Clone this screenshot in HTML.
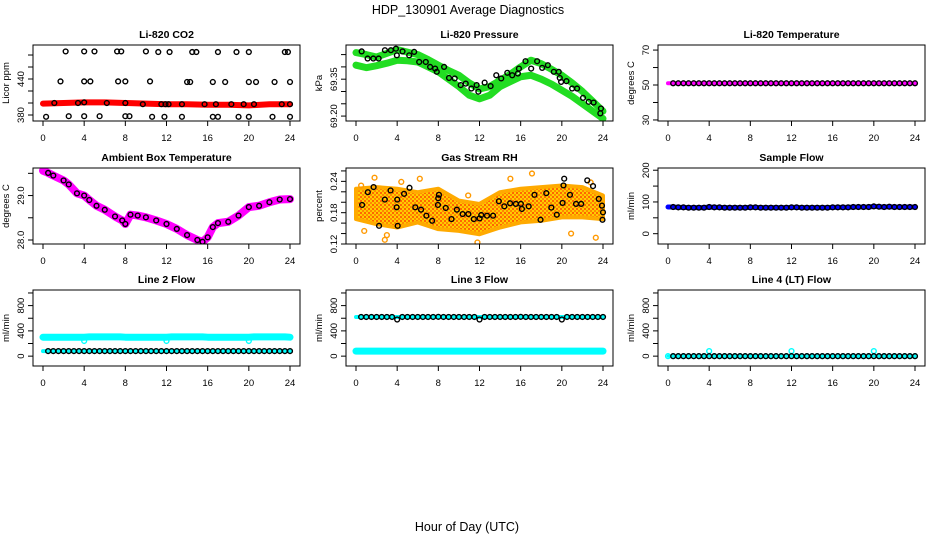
<!DOCTYPE html>
<html><head><meta charset="utf-8">
<style>
html,body{margin:0;padding:0;background:#fff;}
svg{display:block;font-family:"Liberation Sans",Arial,sans-serif;}
</style></head>
<body>
<svg id="chart" width="936" height="540" viewBox="0 0 936 540" xmlns="http://www.w3.org/2000/svg">
<defs>
<pattern id="rhpat" width="4" height="4" patternUnits="userSpaceOnUse">
<rect width="4" height="4" fill="#ffcc00"/>
<rect x="0" y="0" width="2" height="2" fill="#ff6600"/>
<rect x="2" y="2" width="2" height="2" fill="#ff8800"/>
</pattern>
</defs>
<text x="468" y="14" text-anchor="middle" font-size="12.5">HDP_130901  Average Diagnostics</text>
<text x="467" y="531" text-anchor="middle" font-size="12.5">Hour of Day (UTC)</text>
</svg>
<script>
// ---------- data ----------
const hours = [0,0.5,1,1.5,2,2.5,3,3.5,4,4.5,5,5.5,6,6.5,7,7.5,8,8.5,9,9.5,10,10.5,11,11.5,12,12.5,13,13.5,14,14.5,15,15.5,16,16.5,17,17.5,18,18.5,19,19.5,20,20.5,21,21.5,22,22.5,23,23.5,24];
const xTicks = [0,4,8,12,16,20,24];

const co2BandH = [0,2,4,6,8,10,12,14,16,18,20,22,24];
const co2BandV = [399,400,401,401,400,399,398,398,397,397,396,398,398];
const co2CircH = [2.2,4,5,7.2,7.6,10,11.2,12.3,14.5,14.9,17,18.8,20,23.5,23.8, 1.7,4,4.6,7.3,8,10.4,14,14.3,16.5,17.7,20,20.7,22.5,24, 1.1,3.4,4,6.2,8,9.7,11.5,11.9,12.2,13.5,15.7,16.8,18.3,19.5,20.5,23.2,24, 0.3,2.5,4,5.5,8,8.4,10.6,11.8,13.5,16.5,17,19,20,22.3,24];
const co2CircV = [486,486,486,486,486,486,485,485,485,485,485,485,485,485,485, 436,436,436,436,436,436,435,435,435,435,435,435,435,435, 400,400,401,400,400,398,398,398,398,398,398,398,398,398,398,398,398, 377,378,378,378,378,378,377,377,377,377,377,377,377,377,377];

const presAH = [0,1,2,3,4,5,6,7,8,9,10,11,12,13,14,15,16,17,18,19,20,21,22,23,24];
const presAV = [69.458,69.45,69.44,69.455,69.47,69.46,69.45,69.43,69.407,69.385,69.366,69.335,69.31,69.32,69.345,69.37,69.40,69.427,69.413,69.39,69.366,69.335,69.30,69.26,69.22];
const presBH = [0,1,2,3,4,5,6,7,8,9,10,11,12,13,14,15,16,17,18,19,20,21,22,23,24];
const presBV = [69.407,69.397,69.405,69.415,69.427,69.425,69.42,69.40,69.38,69.35,69.32,69.285,69.27,69.285,69.32,69.34,69.36,69.366,69.35,69.33,69.305,69.28,69.25,69.22,69.19];
const presCircH = [0.55,1.13,1.68,2.2,2.81,3.39,3.88,3.97,4.52,5.17,5.65,6.14,6.78,7.2,7.69,7.85,8.56,9.04,9.59,10.17,10.66,11.21,11.72,11.89,12.5,13.08,13.63,14.11,14.7,15.18,15.73,15.83,16.47,17.02,17.6,18.09,18.64,19.22,19.7,19.8,19.93,20.45,21.0,21.48,22.06,22.61,23.09,23.8,23.74];
const presCircV = [69.463,69.434,69.434,69.434,69.468,69.468,69.474,69.447,69.463,69.447,69.461,69.420,69.420,69.400,69.393,69.380,69.400,69.355,69.353,69.326,69.332,69.312,69.326,69.299,69.336,69.322,69.366,69.353,69.376,69.366,69.373,69.393,69.423,69.393,69.423,69.396,69.407,69.380,69.380,69.355,69.339,69.342,69.312,69.312,69.274,69.258,69.255,69.231,69.211];

const tempV = [51,51,51,51,51,51,51,51,51,51,51,51,51,51,51,51,51,51,51,51,51,51,51,51,51,51,51,51,51,51,51,51,51,51,51,51,51,51,51,51,51,51,51,51,51,51,51,51,51];

const ambH = [0,0.5,1,2,2.5,3.3,4,4.5,5.2,6,7,7.7,8,8.5,9.2,10,11,12,13,14,15,15.5,16,16.5,17,18,19,20,21,22,23,24];
const ambV = [29.56,29.51,29.45,29.34,29.25,29.05,29.0,28.9,28.77,28.68,28.53,28.44,28.36,28.57,28.55,28.51,28.44,28.36,28.25,28.11,28.0,27.96,28.06,28.29,28.38,28.41,28.55,28.74,28.77,28.85,28.91,28.92];

const rhBandH = [0,2,4,6,8,10,12,14,16,18,20,22,24];
const rhUpper = [0.2258,0.229,0.2258,0.2193,0.2258,0.2032,0.1968,0.2193,0.2258,0.229,0.2322,0.229,0.2129];
const rhLower = [0.1677,0.158,0.1516,0.1613,0.1484,0.1452,0.1387,0.1516,0.1613,0.1645,0.171,0.171,0.1677];
const rhOutH = [0.5,1.8,2.8,4.4,6.2,10.9,11.8,12.3,15.0,17.1,20.9,22.8,23.3,0.8,3.0];
const rhOutV = [0.232,0.247,0.128,0.239,0.245,0.213,0.123,0.115,0.245,0.255,0.140,0.238,0.132,0.145,0.137];
const rhCircH = [0.59,1.15,1.71,2.24,2.8,3.36,3.95,4.01,4.05,4.67,5.2,5.76,6.32,6.84,7.4,7.96,7.99,8.06,8.72,9.28,9.8,10.36,10.92,11.45,12.01,12.17,12.73,13.32,13.88,14.41,14.97,15.53,16.02,16.12,16.78,17.34,17.93,18.49,18.98,19.51,20.07,20.16,20.23,20.79,21.38,21.88,22.47,23.03,23.59,23.9,24.0,23.95];
const rhCircV = [0.1948,0.2193,0.229,0.1548,0.2051,0.2226,0.1903,0.2051,0.1548,0.2161,0.2277,0.1903,0.1858,0.1742,0.1645,0.1948,0.2077,0.2142,0.189,0.1677,0.1858,0.1774,0.1774,0.1677,0.169,0.1755,0.1742,0.1742,0.2019,0.1922,0.198,0.1968,0.1968,0.1871,0.1922,0.2142,0.1664,0.2174,0.1897,0.1761,0.1987,0.2322,0.2451,0.2142,0.1968,0.1968,0.2419,0.2309,0.2064,0.1935,0.1806,0.1664];

const sampleV = [84,84,83,83,82,82,82,82,84,83,83,82,82,82,82,82,83,83,82,82,82,82,82,82,83,83,82,82,82,82,82,82,83,83,83,83,84,84,84,84,86,85,84,85,84,84,84,84,84];

const line2HiV = [300,300,300,300,300,300,300,300,240,305,305,305,305,305,305,305,300,300,300,300,300,300,300,300,240,305,305,305,305,305,305,305,300,300,300,300,300,300,300,300,240,305,305,305,305,305,305,305,300];
const line2LoV = [80,80,80,80,80,80,80,80,80,80,80,80,80,80,80,80,80,80,80,80,80,80,80,80,80,80,80,80,80,80,80,80,80,80,80,80,80,80,80,80,80,80,80,80,80,80,80,80,80];
const line3HiV = [620,620,620,620,620,620,620,620,580,620,620,620,620,620,620,620,622,620,620,620,620,620,620,620,580,620,620,620,620,620,620,620,622,620,620,620,620,620,620,620,580,620,620,620,620,620,620,620,620];
const line3LoV = [80,80,80,80,80,80,80,80,80,80,80,80,80,80,80,80,80,80,80,80,80,80,80,80,80,80,80,80,80,80,80,80,80,80,80,80,80,80,80,80,80,80,80,80,80,80,80,80,80];
const line4V = [0,0,0,0,0,0,0,0,80,0,0,0,0,0,0,0,0,0,0,0,0,0,0,0,80,0,0,0,0,0,0,0,0,0,0,0,0,0,0,0,80,0,0,0,0,0,0,0,0];

// ---------- drawing ----------
const NS = "http://www.w3.org/2000/svg";
const svg = document.getElementById('chart');
function el(tag, parent){ const e = document.createElementNS(NS, tag); parent.appendChild(e); return e; }

function makePanel(col, row, name, title, ylab, ymin, ymax, yTicks, yLabels){
  const lefts = [33,346,658], tops = [45,168,290];
  const L = lefts[col], T = tops[row], W = 267, Hh = 76;
  const g = el('g', svg);
  
  
  const p = {L, T, W, Hh, g,
    x: h => L + 10 + h * (W - 20) / 24,
    y: v => T + Hh - (v - ymin) / (ymax - ymin) * Hh};
  const t = el('text', g);
  
  
  t.setAttribute('x', L + W / 2); t.setAttribute('y', T - 7);
  t.setAttribute('text-anchor', 'middle'); t.setAttribute('font-size', '10.5'); t.setAttribute('font-weight', 'bold');
  t.textContent = title;
  const yl = el('text', g);
  
  
  const yx = L - 24, yy = T + Hh / 2;
  yl.setAttribute('x', yx); yl.setAttribute('y', yy);
  yl.setAttribute('transform', 'rotate(-90 ' + yx + ' ' + yy + ')');
  yl.setAttribute('text-anchor', 'middle'); yl.setAttribute('font-size', '9.5');
  yl.textContent = ylab;
  xTicks.forEach(h => {
    const tk = el('line', g);
    
    
    tk.setAttribute('x1', p.x(h)); tk.setAttribute('x2', p.x(h));
    tk.setAttribute('y1', T + Hh); tk.setAttribute('y2', T + Hh + 5);
    tk.setAttribute('stroke', '#000');
    const lb = el('text', g);
    
    
    lb.setAttribute('x', p.x(h)); lb.setAttribute('y', T + Hh + 20);
    lb.setAttribute('text-anchor', 'middle'); lb.setAttribute('font-size', '9.5');
    lb.textContent = String(h);
  });
  yTicks.forEach(v => {
    const tk = el('line', g);
    
    
    tk.setAttribute('x1', L); tk.setAttribute('x2', L - 5);
    tk.setAttribute('y1', p.y(v)); tk.setAttribute('y2', p.y(v));
    tk.setAttribute('stroke', '#000');
  });
  yLabels.forEach(s => {
    const v = parseFloat(s);
    const lb = el('text', g);
    
    
    const lx = L - 9, ly = p.y(v);
    lb.setAttribute('x', lx); lb.setAttribute('y', ly);
    lb.setAttribute('transform', 'rotate(-90 ' + lx + ' ' + ly + ')');
    lb.setAttribute('text-anchor', 'middle'); lb.setAttribute('font-size', '9.5');
    lb.textContent = s;
  });
  p.plot = el('g', g);
  
  
  p.finish = function(){
    const b = el('rect', g);
    
    
    b.setAttribute('x', L); b.setAttribute('y', T); b.setAttribute('width', W); b.setAttribute('height', Hh);
    b.setAttribute('fill', 'none'); b.setAttribute('stroke', '#000');
  };
  const cp = el('clipPath', svg); cp.id = 'clip-' + name;
  const cr = el('rect', cp);
  cr.setAttribute('x', L); cr.setAttribute('y', T); cr.setAttribute('width', W); cr.setAttribute('height', Hh);
  p.plot.setAttribute('clip-path', 'url(#clip-' + name + ')');
  return p;
}

function band(p, hs, vs, color, width, nm){
  const pl = el('polyline', p.plot);
  
  
  pl.setAttribute('points', hs.map((h, i) => p.x(h) + ',' + p.y(vs[i])).join(' '));
  pl.setAttribute('fill', 'none'); pl.setAttribute('stroke', color);
  pl.setAttribute('stroke-width', width); pl.setAttribute('stroke-linejoin', 'round'); pl.setAttribute('stroke-linecap', 'round');
}
function circles(p, hs, vs, color, nm, startIdx){
  hs.forEach((h, i) => {
    if (startIdx && i < startIdx) return;
    const c = el('circle', p.plot);
    
    
    c.setAttribute('cx', p.x(h)); c.setAttribute('cy', p.y(vs[i])); c.setAttribute('r', 2.4);
    c.setAttribute('fill', 'none'); c.setAttribute('stroke', color); c.setAttribute('stroke-width', 1.4);
  });
}

// CO2
let p = makePanel(0, 0, 'co2', 'Li-820 CO2', 'Licor ppm', 370, 496.7, [380,400,420,440,460,480], ['380','440']);
band(p, co2BandH, co2BandV, '#ff0000', 6, 'co2-band');
circles(p, co2CircH, co2CircV, '#000', 'co2-point');
p.finish();

// Pressure
p = makePanel(1, 0, 'pressure', 'Li-820 Pressure', 'kPa', 69.18, 69.489, [69.20,69.25,69.30,69.35,69.40,69.45], ['69.20','69.35']);
band(p, presAH, presAV, '#22dd22', 7, 'pressure-band-upper');
band(p, presBH, presBV, '#22dd22', 7, 'pressure-band-lower');
circles(p, presCircH, presCircV, '#000', 'pressure-point');
p.finish();

// Li-820 Temperature
p = makePanel(2, 0, 'li820-temp', 'Li-820 Temperature', 'degrees C', 29.4, 72.9, [30,40,50,60,70], ['30','50','70']);
band(p, hours, tempV, '#ff00ff', 4, 'li820-temp-band');
circles(p, hours, tempV, '#000', 'li820-temp-point', 1);
p.finish();

// Ambient
p = makePanel(0, 1, 'ambient', 'Ambient Box Temperature', 'degrees C', 27.91, 29.62, [28.0,28.5,29.0,29.5], ['28.0','29.0']);
band(p, ambH, ambV, '#ff00ff', 8, 'ambient-band');
circles(p, ambH, ambV, '#000', 'ambient-point', 1);
p.finish();

// RH
p = makePanel(1, 1, 'rh', 'Gas Stream RH', 'percent', 0.12, 0.2656, [0.12,0.14,0.16,0.18,0.20,0.22,0.24,0.26], ['0.12','0.18','0.24']);
{
  const pts = rhBandH.map((h, i) => p.x(h) + ',' + p.y(rhUpper[i]))
    .concat(rhBandH.slice().reverse().map((h, j) => p.x(h) + ',' + p.y(rhLower[rhBandH.length - 1 - j])));
  const pg = el('polygon', p.plot);
  
  
  pg.setAttribute('points', pts.join(' '));
  pg.setAttribute('fill', 'url(#rhpat)'); pg.setAttribute('stroke', '#ffaa00'); pg.setAttribute('stroke-width', 4); pg.setAttribute('stroke-linejoin', 'round');
  circles(p, rhOutH, rhOutV, '#ff9900', 'rh-outlier');
}
circles(p, rhCircH, rhCircV, '#000', 'rh-point');
p.finish();

// Sample flow
p = makePanel(2, 1, 'sample-flow', 'Sample Flow', 'ml/min', -32.5, 207, [0,50,100,150,200], ['0','100','200']);
band(p, hours, sampleV, '#0000ff', 5, 'sample-flow-band');
circles(p, hours, sampleV, '#000', 'sample-flow-point', 1);
p.finish();

// Line 2
const flowTicks = [0,200,400,600,800,1000];
p = makePanel(0, 2, 'line2', 'Line 2 Flow', 'ml/min', -156, 1047, flowTicks, ['0','400','800']);
band(p, hours, line2HiV.map(v => Math.max(v, 300)), '#00ffff', 7, 'line2-high-band');
circles(p, hours, line2HiV, '#00ffff', 'line2-high-point');
band(p, hours, line2LoV, '#00ffff', 4, 'line2-low-band');
circles(p, hours, line2LoV, '#000', 'line2-low-point', 1);
p.finish();

// Line 3
p = makePanel(1, 2, 'line3', 'Line 3 Flow', 'ml/min', -156, 1047, flowTicks, ['0','400','800']);
band(p, hours, line3HiV.map(v => Math.max(v, 620)), '#00ffff', 4, 'line3-high-band');
circles(p, hours, line3HiV, '#000', 'line3-high-point', 1);
band(p, hours, line3LoV, '#00ffff', 7, 'line3-low-band');
p.finish();

// Line 4
p = makePanel(2, 2, 'line4', 'Line 4 (LT) Flow', 'ml/min', -156, 1047, flowTicks, ['0','400','800']);
band(p, hours, line4V.map(v => 0), '#00ffff', 3, 'line4-band');
circles(p, hours, line4V, '#00ffff', 'line4-cyan-point');
circles(p, hours, line4V.map(v => 0), '#000', 'line4-point', 1);
p.finish();
</script>
</body></html>
